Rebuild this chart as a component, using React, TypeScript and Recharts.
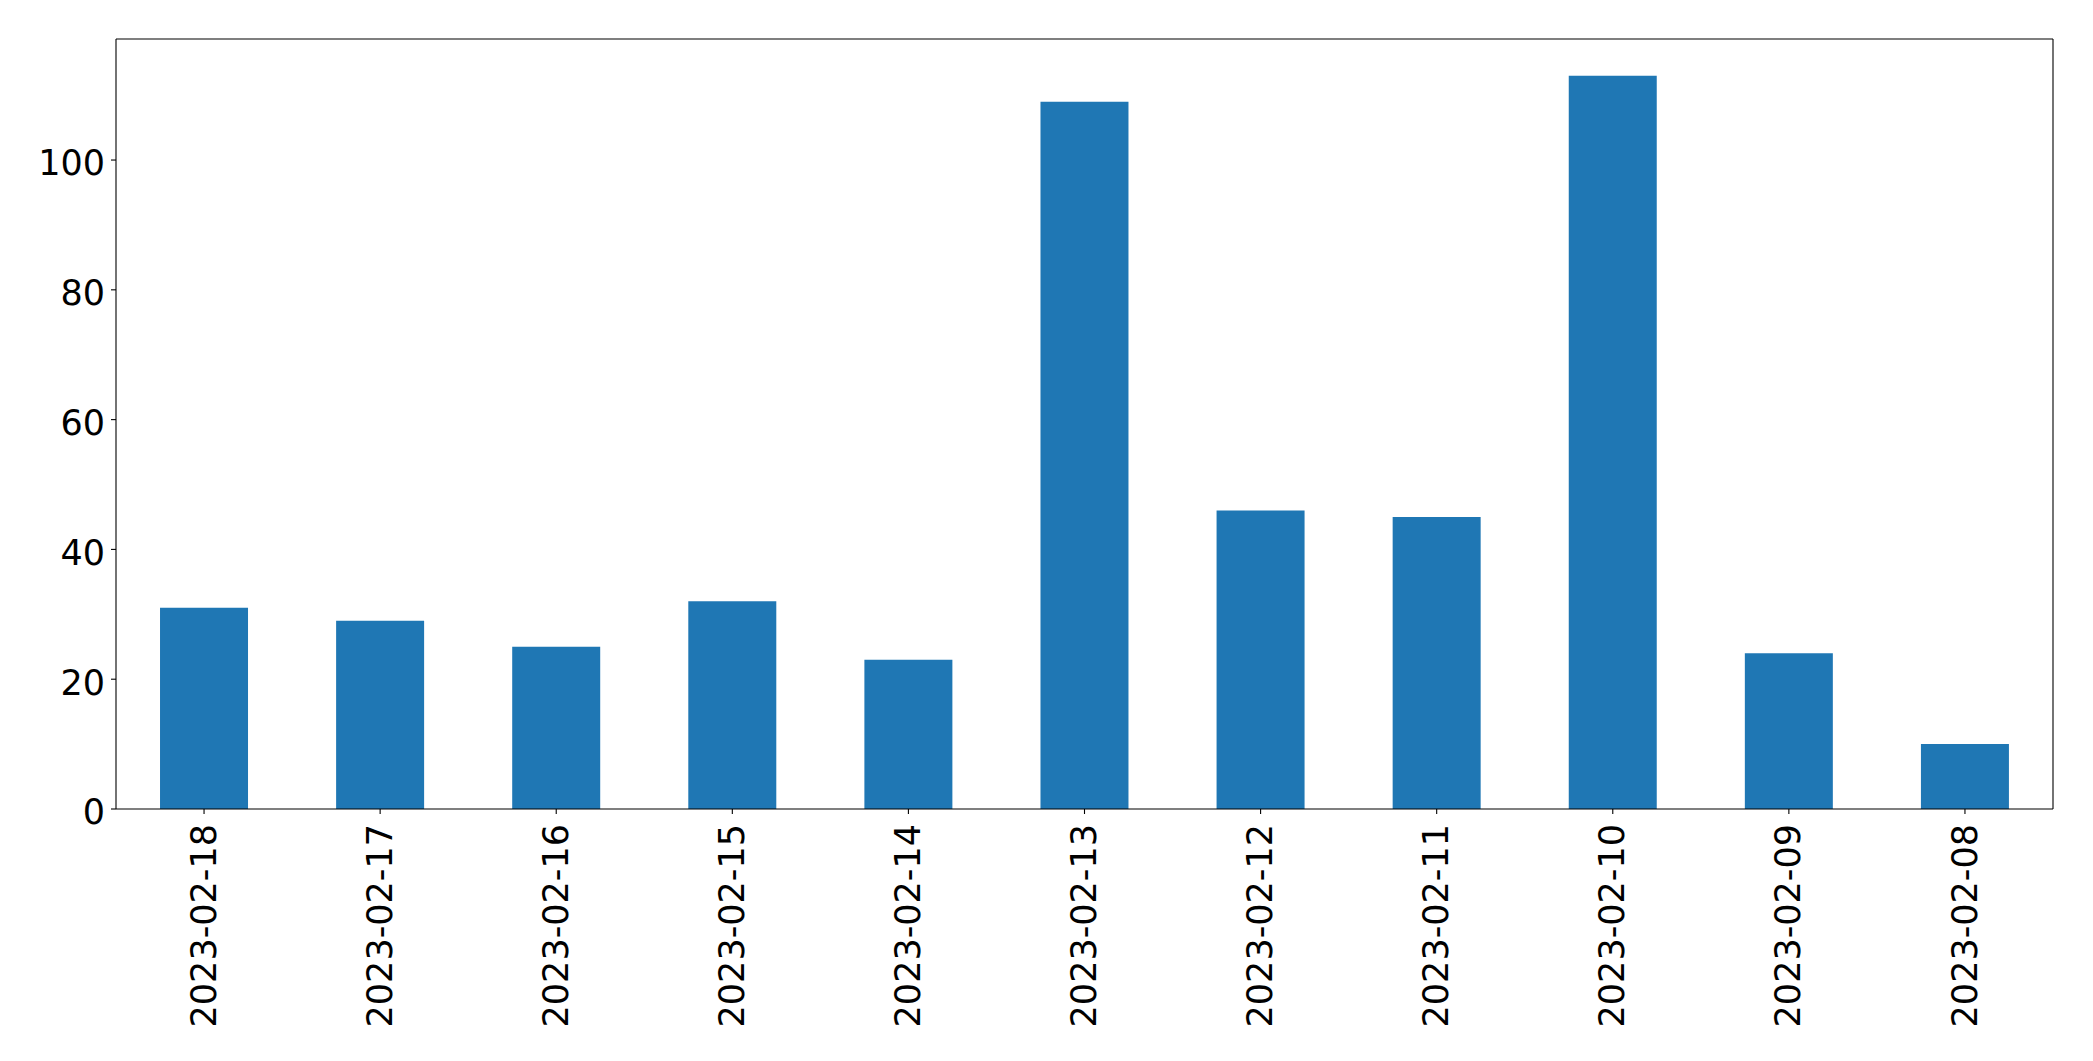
import React from "react"
import { ComposedChart, Bar, Line, XAxis, YAxis } from "recharts"

const dates = [
  "2023-02-18",
  "2023-02-17",
  "2023-02-16",
  "2023-02-15",
  "2023-02-14",
  "2023-02-13",
  "2023-02-12",
  "2023-02-11",
  "2023-02-10",
  "2023-02-09",
  "2023-02-08",
]
const counts = [31, 29, 25, 32, 23, 109, 46, 45, 113, 24, 10]
const yTicks = [0, 20, 40, 60, 80, 100]

const data = dates.map((date, i) => ({ date, count: counts[i] }))

const FONT = "DejaVu Sans"
const FS = 35
const Y_MAX = 118.65

function XTick({ x, y, payload }: any) {
  return (
    <text
      x={x}
      y={y}
      dy="0.33em"
      transform={`rotate(-90, ${x}, ${y})`}
      textAnchor="end"
      fontFamily={FONT}
      fontSize={FS}
      fill="#000"
    >
      {payload.value}
    </text>
  )
}

function YTick({ x, y, payload }: any) {
  return (
    <text x={x} y={y} dy="0.44em" textAnchor="end" fontFamily={FONT} fontSize={FS} fill="#000">
      {payload.value}
    </text>
  )
}

export default function App() {
  return (
    <div style={{ position: "absolute", left: 0, top: 0, background: "#fff" }}>
      <ComposedChart
        width={2093}
        height={1061}
        data={data}
        margin={{ top: 38, right: 39, bottom: 0, left: 0 }}
        barCategoryGap="25%"
      >
        <XAxis
          dataKey="date"
          height={252}
          interval={0}
          tick={<XTick />}
          tickSize={5}
          tickMargin={10}
          tickLine={{ stroke: "#000", strokeWidth: 1.1 }}
          axisLine={{ stroke: "#000", strokeWidth: 1.1 }}
        />
        {/* top and right frame lines */}
        <XAxis
          xAxisId="top"
          dataKey="date"
          orientation="top"
          height={1}
          tick={false}
          tickLine={false}
          axisLine={{ stroke: "#000", strokeWidth: 1.1 }}
        />
        <YAxis
          width={116}
          domain={[0, Y_MAX]}
          ticks={yTicks}
          interval={0}
          tick={<YTick />}
          tickSize={5}
          tickMargin={6}
          tickLine={{ stroke: "#000", strokeWidth: 1.1 }}
          axisLine={{ stroke: "#000", strokeWidth: 1.1 }}
        />
        <YAxis
          yAxisId="right"
          orientation="right"
          width={1}
          domain={[0, Y_MAX]}
          tick={false}
          tickLine={false}
          axisLine={{ stroke: "#000", strokeWidth: 1.1 }}
        />
        <Bar dataKey="count" fill="#1f77b4" isAnimationActive={false} />
        <Line
          xAxisId="top"
          yAxisId="right"
          dataKey="count"
          stroke="none"
          dot={false}
          activeDot={false}
          isAnimationActive={false}
        />
      </ComposedChart>
    </div>
  )
}
